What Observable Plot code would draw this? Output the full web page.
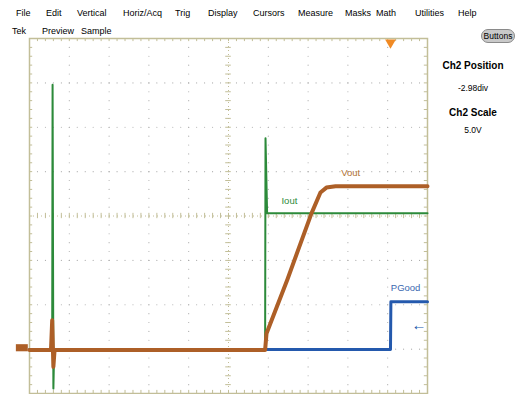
<!DOCTYPE html>
<html>
<head>
<meta charset="utf-8">
<script src="https://cdn.jsdelivr.net/npm/d3@7"></script>
<script src="https://cdn.jsdelivr.net/npm/@observablehq/plot@0.6"></script>
<style>
  html, body { margin: 0; padding: 0; background: #fff; }
  #wrap { position: relative; width: 518px; height: 394px; overflow: hidden; font-family: "Liberation Sans", Arial, sans-serif; color: #000; }
  #wrap svg { position: absolute; left: 0; top: 0; }
  .menu { position: absolute; font-size: 9px; white-space: nowrap; line-height: 1; }
  .side { position: absolute; left: 430px; width: 86px; text-align: center; white-space: nowrap; line-height: 1; }
  .btn { position: absolute; left: 481px; top: 29px; width: 34px; height: 14px; border-radius: 7px; background: #c9c9c9; border: 1px solid #8a8a8a; box-sizing: border-box; font-size: 8.5px; text-align: center; line-height: 12px; }
</style>
</head>
<body>
<div id="wrap"></div>
<script>
// ---- data (divisions: x 0..10, y 0..8) ----
const menuItems = ["File", "Edit", "Vertical", "Horiz/Acq", "Trig", "Display", "Cursors", "Measure", "Masks", "Math", "Utilities", "Help"];
const subItems = ["Tek", "Preview", "Sample"];
const ch2PositionDiv = -2.98;
const ch2Scale = "5.0V";

const ioutT = [0, 0.57, 0.58, 0.60, 0.62, 5.92, 5.93, 5.97, 10];
const ioutV = [1.0, 1.0, 6.96, 0.11, 1.0, 1.0, 5.75, 4.06, 4.06];

const voutT = [0, 0.54, 0.57, 0.60, 0.63, 5.92, 5.955, 6.48, 7.085, 7.31, 7.46, 7.69, 10];
const voutV = [0.98, 0.98, 1.65, 0.6, 0.98, 0.98, 1.35, 2.57, 4.06, 4.53, 4.64, 4.67, 4.67];

const pgoodT = [0, 9.07, 9.08, 10];
const pgoodV = [0.99, 0.99, 2.07, 2.07];

const labelNames = ["Vout", "Iout", "PGood"];
const labelX = [8.07, 6.53, 9.45];
const labelY = [4.98, 4.35, 2.37];

const triggerX = 9.07;
const triggerLevel = 1.55;

// ---- layout ----
const menuX = [16, 46, 77, 123, 175, 208, 253, 298, 345, 376, 415, 458];
const subX = [12, 42, 81];
const colors = {Vout: "#ad5f27", Iout: "#2c8a3a", PGood: "#2459ad"};
const labelColors = {Vout: "#b0702f", Iout: "#2c8a3a", PGood: "#3a68b0"};

const toPts = (t, v) => t.map((x, i) => ({x, y: v[i]}));
const iout = toPts(ioutT, ioutV);
const vout = toPts(voutT, voutV);
const pgood = toPts(pgoodT, pgoodV);
const labels = labelNames.map((n, i) => ({n, x: labelX[i], y: labelY[i]}));

// graticule helpers
const gridDots = [];
for (let i = 1; i <= 9; i++) if (i !== 5) for (let k = 0; k <= 40; k++) gridDots.push({x: i, y: k / 5});
for (let j = 1; j <= 7; j++) if (j !== 4) for (let k = 0; k <= 50; k++) gridDots.push({x: k / 5, y: j});
const minorY = d3.range(1, 40).map(k => k / 5);
const minorX = d3.range(1, 50).map(k => k / 5);
const groundY = 4 + ch2PositionDiv;

const frameColor = "#c2be98";
const gridColor = "#a8a8a8";

const chart = Plot.plot({
  width: 518,
  height: 394,
  marginLeft: 29,
  marginRight: 91,
  marginTop: 38,
  marginBottom: 1,
  x: {domain: [0, 10], axis: null},
  y: {domain: [0, 8], axis: null},
  style: {background: "transparent", fontFamily: "Liberation Sans, Arial, sans-serif"},
  marks: [
    Plot.dot(gridDots, {x: "x", y: "y", r: 0.55, fill: gridColor, stroke: null}),
    // center crosshair
    Plot.ruleY(minorY, {x1: 4.93, x2: 5.07, y: d => d, stroke: frameColor, strokeWidth: 1}),
    Plot.ruleX(minorX, {y1: 3.94, y2: 4.06, x: d => d, stroke: frameColor, strokeWidth: 1}),
    Plot.ruleX([5], {stroke: frameColor, strokeDasharray: "1,3", strokeWidth: 1}),
    Plot.ruleY([4], {stroke: frameColor, strokeDasharray: "1,3", strokeWidth: 1}),
    // edge ticks
    Plot.ruleX(minorX, {y1: 8, y2: 7.93, x: d => d, stroke: frameColor}),
    Plot.ruleX(minorX, {y1: 0, y2: 0.07, x: d => d, stroke: frameColor}),
    Plot.ruleY(minorY, {x1: 0, x2: 0.08, y: d => d, stroke: frameColor}),
    Plot.ruleY(minorY, {x1: 10, x2: 9.92, y: d => d, stroke: frameColor}),
    Plot.frame({stroke: frameColor, strokeWidth: 1.5}),
    // traces
    Plot.line(pgood, {x: "x", y: "y", stroke: colors.PGood, strokeWidth: 3, curve: "linear"}),
    Plot.line(iout, {x: "x", y: "y", stroke: colors.Iout, strokeWidth: 2, curve: "linear"}),
    Plot.line(vout, {x: "x", y: "y", stroke: colors.Vout, strokeWidth: 4, curve: "linear"}),
    // trace labels
    Plot.text(labels, {x: "x", y: "y", text: "n", fill: d => labelColors[d.n], fontSize: 9.5}),
    // trigger position marker
    Plot.dot([triggerX], {x: d => d, y: 8, dy: 4, symbol: "triangle", rotate: 180, r: 4, fill: "#f08a24", stroke: null}),
    // trigger level indicator
    Plot.text([triggerLevel], {x: 10, y: d => d, text: () => "←", dx: -1, textAnchor: "end", fill: colors.PGood, fontSize: 15}),
    // ch2 ground marker
    Plot.rect([groundY], {x1: -0.33, x2: -0.03, y1: d => d - 0.08, y2: d => d + 0.08, fill: colors.Vout})
  ]
});

const wrap = document.getElementById("wrap");
wrap.appendChild(chart);

menuItems.forEach((m, i) => {
  const d = document.createElement("div");
  d.className = "menu";
  d.textContent = m;
  d.style.left = menuX[i] + "px";
  d.style.top = "9px";
  wrap.appendChild(d);
});
subItems.forEach((m, i) => {
  const d = document.createElement("div");
  d.className = "menu";
  d.textContent = m;
  d.style.left = subX[i] + "px";
  d.style.top = "27px";
  wrap.appendChild(d);
});

const btn = document.createElement("div");
btn.className = "btn";
btn.textContent = "Buttons";
wrap.appendChild(btn);

const sideTexts = [
  {t: "Ch2 Position", top: 61, bold: true, size: 10},
  {t: ch2PositionDiv.toFixed(2) + "div", top: 84, bold: false, size: 8.5},
  {t: "Ch2 Scale", top: 108, bold: true, size: 10},
  {t: ch2Scale, top: 126, bold: false, size: 8.5}
];
sideTexts.forEach(s => {
  const d = document.createElement("div");
  d.className = "side";
  d.textContent = s.t;
  d.style.top = s.top + "px";
  d.style.fontWeight = s.bold ? "bold" : "normal";
  d.style.fontSize = s.size + "px";
  wrap.appendChild(d);
});
</script>
</body>
</html>
